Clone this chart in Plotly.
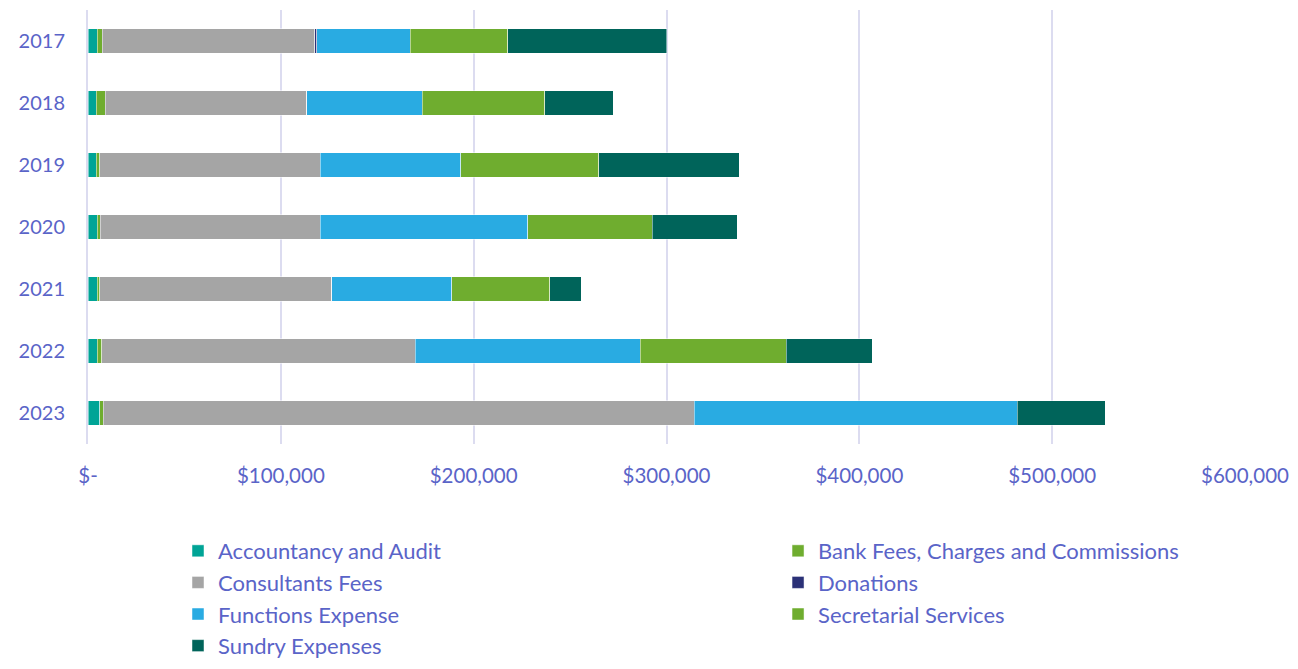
import plotly.graph_objects as go

years = ["2017", "2018", "2019", "2020", "2021", "2022", "2023"]

accountancy = [4800, 4300, 4300, 4800, 4800, 4800, 6000]
bank_fees = [2600, 4700, 1700, 1600, 1200, 2200, 1900]
consultants = [110200, 104400, 114500, 114100, 120500, 162600, 306600]
donations = [900, 0, 0, 0, 0, 0, 0]
functions = [48600, 60000, 72700, 107600, 62100, 116700, 167400]
secretarial = [50700, 63400, 71600, 64600, 50900, 75700, 0]
sundry = [82300, 35500, 72900, 44000, 16300, 44800, 45500]

series = [
    ("Accountancy and Audit", accountancy, "#00A496", "legend"),
    ("Bank Fees, Charges and Commissions", bank_fees, "#6FAD2F", "legend2"),
    ("Consultants Fees", consultants, "#A5A5A5", "legend"),
    ("Donations", donations, "#2B3177", "legend2"),
    ("Functions Expense", functions, "#29ABE2", "legend"),
    ("Secretarial Services", secretarial, "#6FAD2F", "legend2"),
    ("Sundry Expenses", sundry, "#00645A", "legend"),
]

tick_vals = [0, 100000, 200000, 300000, 400000, 500000, 600000]
tick_text = ["$-", "$100,000", "$200,000", "$300,000", "$400,000", "$500,000", "$600,000"]

text_color = "#5A64C8"
grid_color = "#DCDCF0"

fig = go.Figure()
for name, vals, color, leg in series:
    fig.add_trace(go.Bar(
        y=years, x=vals, name=name, orientation="h",
        legend=leg, legendgroup=name,
        marker=dict(color=color, line=dict(color="rgba(255,255,255,0.6)", width=0.8)),
    ))

legend_common = dict(
    orientation="v", yanchor="top", xanchor="left",
    font=dict(size=22, color=text_color),
    traceorder="grouped", tracegroupgap=0,
    bgcolor="rgba(0,0,0,0)",
)

fig.update_layout(
    barmode="stack",
    bargap=0.6,
    width=1282, height=653,
    margin=dict(l=80, r=45, t=2, b=217, autoexpand=False),
    plot_bgcolor="white", paper_bgcolor="white",
    font=dict(family="Lato, sans-serif", color=text_color, size=19),
    xaxis=dict(
        range=[0, 600000], tickvals=tick_vals, ticktext=tick_text,
        showgrid=True, gridcolor=grid_color, gridwidth=1.5,
        zeroline=False, showline=False,
        ticklabelstandoff=17,
        tickfont=dict(size=20.5, color=text_color),
    ),
    yaxis=dict(
        categoryorder="array", categoryarray=years, autorange="reversed",
        showline=True, linecolor=grid_color, linewidth=2,
        ticklabelstandoff=17,
        tickfont=dict(size=20, color=text_color),
    ),
    legend=dict(x=0.0778, y=-0.1982, **legend_common),
    legend2=dict(x=0.5964, y=-0.1982, **legend_common),
)

fig.write_html("out.html")
